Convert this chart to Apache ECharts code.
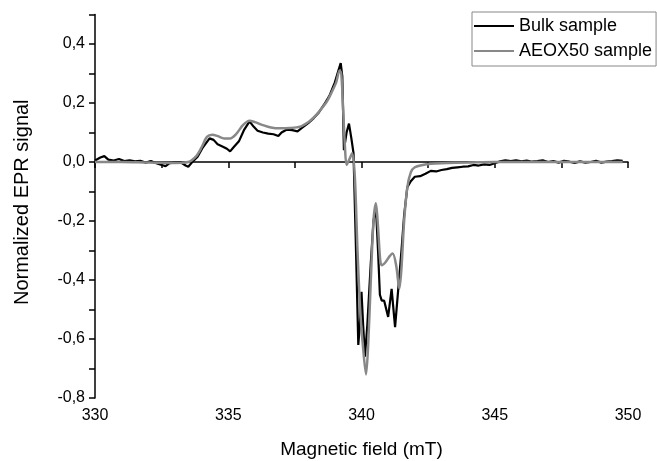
<!DOCTYPE html>
<html>
<head>
<meta charset="utf-8">
<script src="https://cdn.jsdelivr.net/npm/echarts@6/dist/echarts.min.js"></script>
<style>
html,body{margin:0;padding:0;background:#fff;}
#chart{width:657px;height:461px;}
</style>
</head>
<body>
<div id="chart"></div>
<script>
// Magnetic field (mT) and normalized EPR signal
var bulkField = [330.0,330.2,330.35,330.5,330.7,330.9,331.1,331.3,331.5,331.7,331.9,332.1,332.3,332.5,332.65,332.8,333.0,333.2,333.4,333.5,333.65,333.85,334.05,334.3,334.45,334.6,334.8,334.95,335.07,335.2,335.4,335.6,335.8,335.95,336.1,336.3,336.5,336.7,336.88,337.0,337.2,337.4,337.6,337.8,338.0,338.2,338.4,338.6,338.8,339.0,339.15,339.22,339.28,339.34,339.44,339.53,339.62,339.7,339.78,339.88,339.94,340.0,340.06,340.13,340.22,340.35,340.45,340.54,340.62,340.69,340.76,340.85,341.0,341.13,341.26,341.38,341.5,341.6,341.72,341.85,342.0,342.2,342.4,342.6,342.8,343.0,343.2,343.4,343.6,343.8,344.0,344.2,344.4,344.6,344.8,345.0,345.2,345.4,345.6,345.8,346.0,346.2,346.4,346.6,346.8,347.0,347.2,347.4,347.6,347.8,348.0,348.2,348.4,348.6,348.8,349.0,349.2,349.4,349.6,349.8];
var bulkSignal = [0.005,0.015,0.02,0.008,0.005,0.01,0.003,0.006,0.002,0.004,-0.002,0.003,-0.004,-0.01,-0.014,-0.004,-0.002,0.0,-0.012,-0.016,0.0,0.018,0.05,0.08,0.075,0.06,0.052,0.045,0.036,0.05,0.07,0.11,0.138,0.12,0.106,0.1,0.096,0.094,0.088,0.1,0.11,0.108,0.104,0.118,0.132,0.148,0.168,0.195,0.225,0.27,0.315,0.335,0.29,0.04,0.1,0.13,0.08,0.03,-0.25,-0.62,-0.55,-0.44,-0.55,-0.66,-0.55,-0.34,-0.2,-0.15,-0.3,-0.45,-0.47,-0.47,-0.525,-0.43,-0.56,-0.43,-0.3,-0.18,-0.085,-0.065,-0.05,-0.048,-0.04,-0.03,-0.032,-0.027,-0.024,-0.02,-0.018,-0.016,-0.015,-0.01,-0.012,-0.008,-0.01,-0.004,0.002,0.006,0.003,0.006,0.002,0.005,0.001,0.003,0.006,0.0,0.003,-0.002,0.004,0.001,-0.003,0.002,-0.002,0.0,0.004,-0.002,0.001,0.003,0.006,0.004];

var aeoxField = [330.0,331.0,332.0,333.0,333.5,333.8,334.0,334.2,334.4,334.6,334.85,335.07,335.3,335.55,335.8,336.0,336.3,336.6,336.94,337.3,337.7,338.0,338.2,338.4,338.7,338.9,339.05,339.18,339.24,339.3,339.38,339.44,339.55,339.65,339.75,339.85,339.95,340.05,340.17,340.25,340.35,340.45,340.54,340.62,340.7,340.76,340.9,341.05,341.17,341.3,341.42,341.5,341.6,341.72,341.85,342.0,342.3,342.6,343.0,344.0,345.0,346.0,347.0,348.0,349.0,349.8];
var aeoxSignal = [0.0,0.0,-0.002,-0.003,0.0,0.02,0.05,0.085,0.092,0.088,0.08,0.08,0.095,0.125,0.14,0.135,0.125,0.117,0.114,0.115,0.12,0.135,0.15,0.17,0.205,0.24,0.27,0.31,0.3,0.2,0.05,-0.01,0.01,0.03,-0.05,-0.3,-0.5,-0.62,-0.72,-0.62,-0.4,-0.2,-0.14,-0.22,-0.33,-0.35,-0.34,-0.32,-0.31,-0.35,-0.43,-0.36,-0.2,-0.085,-0.035,-0.018,-0.01,-0.006,-0.004,-0.002,0.0,0.0,0.0,0.0,0.0,0.0];

var seriesNames = ['Bulk sample', 'AEOX50 sample'];

function pairs(xs, ys){ return xs.map(function(x,i){ return [x, ys[i]]; }); }

var chart = echarts.init(document.getElementById('chart'), null, {renderer:'canvas'});
var font = 'Arial, "Liberation Sans", sans-serif';
chart.setOption({
  animation:false,
  backgroundColor:'#fff',
  grid:{left:95, right:29, top:14.5, bottom:63, containLabel:false, outerBoundsMode:'none'},
  legend:{
    orient:'vertical', left:472, top:12,
    padding:[5,4,6,2], itemGap:7,
    backgroundColor:'#fff', borderColor:'#888', borderWidth:1,
    icon:'rect', itemWidth:40, itemHeight:2,
    textStyle:{fontFamily:font, fontSize:18, color:'#000'},
    data:[{name:seriesNames[0], itemStyle:{color:'#000'}},{name:seriesNames[1], itemStyle:{color:'#888'}}]
  },
  xAxis:{
    type:'value', min:330, max:350, interval:5,
    name:'Magnetic field (mT)', nameLocation:'middle', nameGap:42,
    nameTextStyle:{fontFamily:font, fontSize:19, color:'#000'},
    axisLine:{lineStyle:{color:'#000', width:1.5}},
    axisTick:{inside:false, length:6, lineStyle:{color:'#000', width:1.5}},
    minorTick:{show:true, splitNumber:2, length:6, lineStyle:{color:'#000', width:1.5}},
    axisLabel:{fontFamily:font, fontSize:16, color:'#000', margin:10},
    splitLine:{show:false}
  },
  yAxis:{
    type:'value', min:-0.8, max:0.5, interval:0.2,
    name:'Normalized EPR signal', nameLocation:'middle', nameGap:63, nameRotate:90,
    nameTextStyle:{fontFamily:font, fontSize:20, color:'#000', padding:[0,0,0,8]},
    axisLine:{lineStyle:{color:'#000', width:1.5}},
    axisTick:{inside:false, length:6, lineStyle:{color:'#000', width:1.5}},
    minorTick:{show:true, splitNumber:2, length:6, lineStyle:{color:'#000', width:1.5}},
    axisLabel:{fontFamily:font, fontSize:16, color:'#000', margin:10, showMaxLabel:false,
      formatter:function(v){
        var r = Math.round(v*10);
        if (Math.abs(r % 2) === 1) return '';
        return (r/10).toFixed(1).replace('.', ',');
      }},
    splitLine:{show:false}
  },
  series:[
    {name:seriesNames[0], type:'line', showSymbol:false, symbol:'none', data:pairs(bulkField,bulkSignal),
     lineStyle:{color:'#000', width:2.2}, itemStyle:{color:'#000'}, z:2},
    {name:seriesNames[1], type:'line', showSymbol:false, symbol:'none', smooth:0.3, data:pairs(aeoxField,aeoxSignal),
     lineStyle:{color:'#888', width:2.5}, itemStyle:{color:'#888'}, z:3}
  ]
});
</script>
</body>
</html>
